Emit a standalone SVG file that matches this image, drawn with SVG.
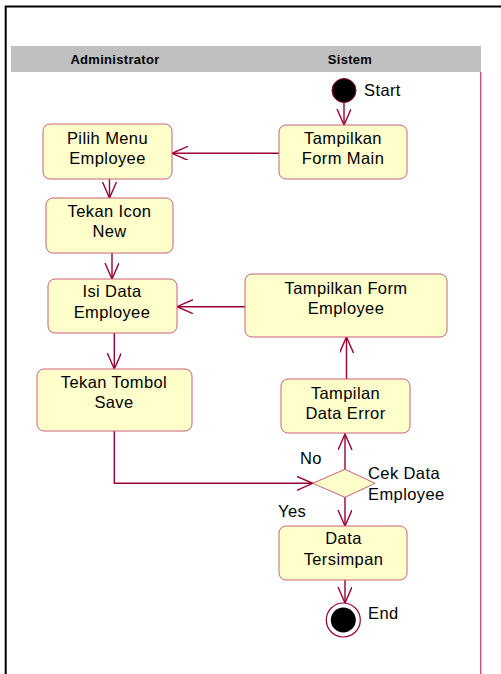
<svg xmlns="http://www.w3.org/2000/svg" width="501" height="674" viewBox="0 0 501 674">
<defs>
<style>
.frame{stroke:#000;stroke-width:2;fill:none}
.lane{stroke:#CC3366;stroke-width:1.2;fill:none}
.hdr{fill:#C0C0C0}
.hdrt{font-family:"Liberation Sans",Arial,sans-serif;font-size:13px;letter-spacing:0.3px;font-weight:bold;fill:#000;text-anchor:middle}
.act{fill:#FFFFCC;stroke:#C8607A;stroke-width:1}
.t{font-family:"Liberation Sans",Arial,sans-serif;font-size:16.5px;letter-spacing:0.4px;fill:#000;text-anchor:middle}
.lbl{font-family:"Liberation Sans",Arial,sans-serif;font-size:16.5px;letter-spacing:0.4px;fill:#000}
.c{stroke:#990033;stroke-width:1.4;fill:none}
</style>
<marker id="ah" markerWidth="20" markerHeight="16" refX="16" refY="7" orient="auto" markerUnits="userSpaceOnUse">
<path d="M0,0 L16,7 L0,14" fill="none" stroke="#990033" stroke-width="1.4"/>
</marker>
</defs>
<rect width="501" height="674" fill="#fff"/>
<path class="frame" d="M5.7,674 V6.5 H501"/>
<rect class="hdr" x="11" y="46" width="470" height="26"/>
<text class="hdrt" x="115" y="64">Administrator</text>
<text class="hdrt" x="350" y="64">Sistem</text>
<line class="lane" x1="480.7" y1="72" x2="480.7" y2="674"/>

<g id="connectors">
<line class="c" x1="344" y1="103" x2="344" y2="125" marker-end="url(#ah)"/>
<line class="c" x1="279" y1="153.3" x2="172" y2="153.3" marker-end="url(#ah)"/>
<line class="c" x1="109.5" y1="179" x2="109.5" y2="198" marker-end="url(#ah)"/>
<line class="c" x1="112" y1="253" x2="112" y2="279" marker-end="url(#ah)"/>
<line class="c" x1="114.3" y1="333" x2="114.3" y2="369" marker-end="url(#ah)"/>
<line class="c" x1="245" y1="306.7" x2="177" y2="306.7" marker-end="url(#ah)"/>
<line class="c" x1="346.5" y1="379" x2="346.5" y2="337" marker-end="url(#ah)"/>
<line class="c" x1="345" y1="469" x2="345" y2="434" marker-end="url(#ah)"/>
<polyline class="c" points="114.3,431 114.3,483.3 312.7,483.3" marker-end="url(#ah)"/>
<line class="c" x1="345" y1="497" x2="345" y2="526" marker-end="url(#ah)"/>
<line class="c" x1="345" y1="580" x2="345" y2="603" marker-end="url(#ah)"/>
</g>

<g id="start">
<circle cx="344" cy="90.5" r="12" fill="#000" stroke="#990033" stroke-width="1"/>
<text class="lbl" x="364" y="96">Start</text>
</g>

<g id="tampilkan-form-main">
<rect class="act" x="279" y="125" width="128" height="54" rx="7"/>
<text class="t" x="343" y="143.5">Tampilkan</text>
<text class="t" x="343" y="164">Form Main</text>
</g>

<g id="pilih-menu">
<rect class="act" x="43" y="124" width="129" height="55" rx="7"/>
<text class="t" x="107.5" y="143.5">Pilih Menu</text>
<text class="t" x="107.5" y="164">Employee</text>
</g>

<g id="tekan-icon">
<rect class="act" x="46" y="198" width="127" height="55" rx="7"/>
<text class="t" x="109.5" y="216.5">Tekan Icon</text>
<text class="t" x="109.5" y="237">New</text>
</g>

<g id="isi-data">
<rect class="act" x="48" y="279" width="129" height="54" rx="7"/>
<text class="t" x="112" y="297">Isi Data</text>
<text class="t" x="112" y="317.5">Employee</text>
</g>

<g id="tekan-tombol">
<rect class="act" x="37" y="369" width="155" height="62" rx="7"/>
<text class="t" x="114" y="387.5">Tekan Tombol</text>
<text class="t" x="114" y="408">Save</text>
</g>

<g id="tampilkan-form-employee">
<rect class="act" x="245" y="274" width="202" height="63" rx="7"/>
<text class="t" x="346" y="293.5">Tampilkan Form</text>
<text class="t" x="346" y="314">Employee</text>
</g>

<g id="tampilan-data-error">
<rect class="act" x="281" y="379" width="129" height="54" rx="7"/>
<text class="t" x="345.5" y="398.5">Tampilan</text>
<text class="t" x="345.5" y="419">Data Error</text>
</g>

<g id="cek-data">
<polygon points="312.7,483.3 345,469.3 375,483.3 345,497.3" fill="#FFFFCC" stroke="#C8607A" stroke-width="1"/>
<text class="lbl" x="368" y="479">Cek Data</text>
<text class="lbl" x="368" y="500">Employee</text>
<text class="lbl" x="300" y="463.5">No</text>
<text class="lbl" x="278" y="516.5">Yes</text>
</g>

<g id="data-tersimpan">
<rect class="act" x="279" y="526" width="128" height="54" rx="7"/>
<text class="t" x="343.5" y="544">Data</text>
<text class="t" x="343.5" y="565">Tersimpan</text>
</g>

<g id="end">
<circle cx="343.3" cy="620" r="17" fill="#fff" stroke="#990033" stroke-width="1.2"/>
<circle cx="343.3" cy="620" r="12.5" fill="#000"/>
<text class="lbl" x="368" y="619">End</text>
</g>
</svg>
